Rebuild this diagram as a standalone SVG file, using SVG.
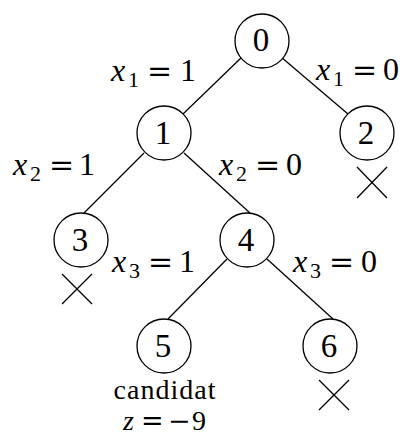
<svg xmlns="http://www.w3.org/2000/svg" width="406" height="437" viewBox="0 0 406 437">
<style>
.n{fill:#fff;stroke:#000;stroke-width:1.3}
.t{font-family:"Liberation Serif","Times New Roman",serif;font-size:32px;fill:#000}
.d{font-size:33px}
.c{text-anchor:middle}
.i{font-style:italic}
.s{font-size:22px}
.e{font-family:"DejaVu Serif","Liberation Serif",serif;font-size:30px}
.b{font-size:28px}
.be{font-family:"DejaVu Serif","Liberation Serif",serif;font-size:27px}
line{stroke:#000;stroke-width:1.3}
</style>
<rect width="406" height="437" fill="#fff"/>
<g id="connectors">
<line x1="242" y1="57" x2="183" y2="114"/>
<line x1="281" y1="57" x2="348" y2="114"/>
<line x1="144" y1="153" x2="84" y2="213"/>
<line x1="184" y1="153" x2="250" y2="213"/>
<line x1="227" y1="259" x2="168" y2="319"/>
<line x1="267" y1="259" x2="333" y2="319"/>
</g>
<g id="node0"><circle class="n" cx="262" cy="41" r="27"/><text class="t d c" x="261" y="51">0</text></g>
<g id="node1"><circle class="n" cx="164" cy="133" r="27"/><text class="t d c" x="163" y="144">1</text></g>
<g id="node2"><circle class="n" cx="367" cy="133" r="27"/><text class="t d c" x="366" y="144">2</text></g>
<g id="node3"><circle class="n" cx="81" cy="240" r="27"/><text class="t d c" x="80" y="251">3</text></g>
<g id="node4"><circle class="n" cx="247" cy="240" r="27"/><text class="t d c" x="246" y="251">4</text></g>
<g id="node5"><circle class="n" cx="164" cy="346" r="27"/><text class="t d c" x="163" y="357">5</text></g>
<g id="node6"><circle class="n" cx="330" cy="346" r="27"/><text class="t d c" x="329" y="357">6</text></g>
<g id="labels">
<text class="t"><tspan class="i" x="111" y="81">x</tspan><tspan class="s" x="128" y="87">1</tspan><tspan class="e" x="147" y="81">=</tspan><tspan x="180" y="81">1</tspan></text>
<text class="t"><tspan class="i" x="316" y="80">x</tspan><tspan class="s" x="333" y="86">1</tspan><tspan class="e" x="352" y="80">=</tspan><tspan x="383" y="80">0</tspan></text>
<text class="t"><tspan class="i" x="13" y="175">x</tspan><tspan class="s" x="30" y="181">2</tspan><tspan class="e" x="49" y="175">=</tspan><tspan x="79" y="175">1</tspan></text>
<text class="t"><tspan class="i" x="219" y="175">x</tspan><tspan class="s" x="236" y="181">2</tspan><tspan class="e" x="255" y="175">=</tspan><tspan x="286" y="175">0</tspan></text>
<text class="t"><tspan class="i" x="112" y="272">x</tspan><tspan class="s" x="129" y="278">3</tspan><tspan class="e" x="148" y="272">=</tspan><tspan x="179" y="272">1</tspan></text>
<text class="t"><tspan class="i" x="293" y="272">x</tspan><tspan class="s" x="310" y="278">3</tspan><tspan class="e" x="329" y="272">=</tspan><tspan x="361" y="272">0</tspan></text>
<text class="t b c" x="165" y="399" letter-spacing="1">candidat</text>
<text class="t b"><tspan class="i" x="123" y="430">z</tspan><tspan class="be" x="141" y="430">=</tspan><tspan class="be" x="168" y="430">−</tspan><tspan x="192" y="430">9</tspan></text>
</g>
<g id="crosses">
<line x1="357" y1="167" x2="387" y2="198"/><line x1="357" y1="198" x2="387" y2="167"/>
<line x1="62" y1="274" x2="92" y2="304"/><line x1="62" y1="304" x2="92" y2="274"/>
<line x1="319" y1="380" x2="349" y2="410"/><line x1="319" y1="410" x2="349" y2="380"/>
</g>
</svg>
